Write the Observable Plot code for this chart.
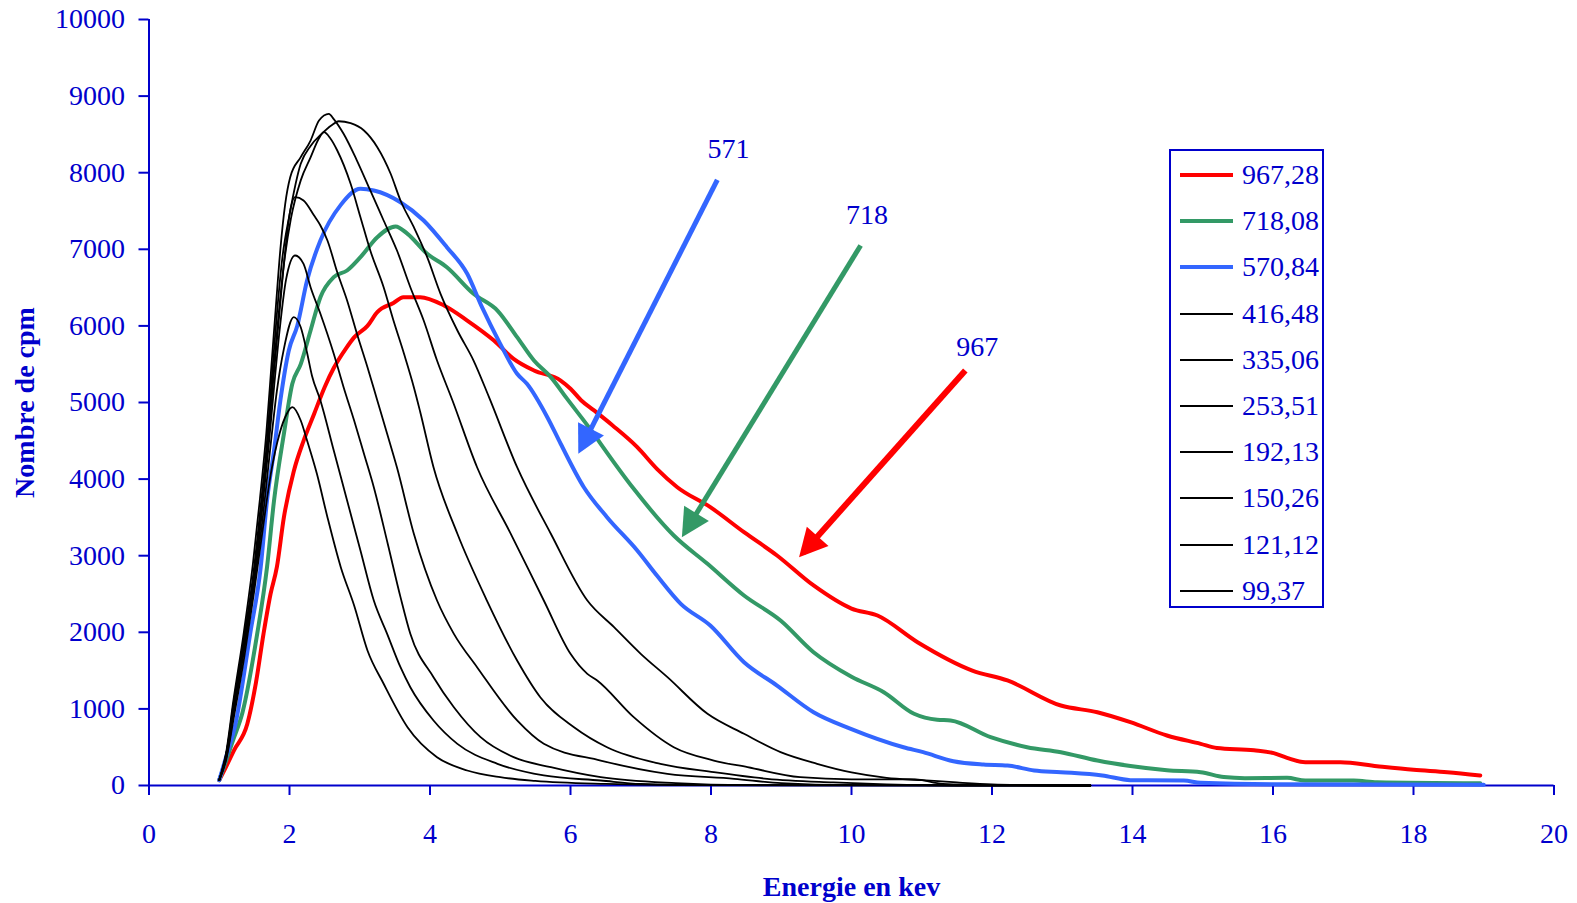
<!DOCTYPE html>
<html><head><meta charset="utf-8">
<script src="https://cdn.jsdelivr.net/npm/d3@7"></script>
<script src="https://cdn.jsdelivr.net/npm/@observablehq/plot@0.6"></script>
<style>
body{margin:0;background:#fff;}
#wrap{position:relative;width:1577px;height:903px;overflow:hidden;}
#legend{position:absolute;left:1169px;top:149px;width:151px;height:455px;border:2px solid #0000cc;background:#fff;font-family:"Liberation Serif","Times New Roman",serif;font-size:28px;color:#0000cc;}
.row{position:absolute;left:0;height:46px;line-height:46px;width:151px;}
.sw{position:absolute;left:9px;width:53px;top:50%;}
.lb{position:absolute;left:71px;top:0;white-space:nowrap;}
</style></head>
<body><div id="wrap"><div id="legend"></div></div>
<script>
// ---- data ----
const xTicks = [0,2,4,6,8,10,12,14,16,18,20];
const yTicks = [0,1000,2000,3000,4000,5000,6000,7000,8000,9000,10000];

const legendLabels = ["967,28","718,08","570,84","416,48","335,06","253,51","192,13","150,26","121,12","99,37"];
const seriesColors = ["#ff0000","#339966","#3366ff","#000000","#000000","#000000","#000000","#000000","#000000","#000000"];

const curve96728 = [[1.0,70],[1.1,250],[1.21,460],[1.4,805],[1.52,1330],[1.63,1980],[1.73,2500],[1.82,2850],[1.92,3500],[2.06,4100],[2.2,4500],[2.35,4850],[2.5,5200],[2.63,5450],[2.8,5700],[2.92,5850],[3.11,6000],[3.25,6180],[3.48,6300],[3.62,6375],[3.86,6375],[4.2,6266],[4.53,6070],[4.91,5809],[5.19,5570],[5.48,5418],[5.86,5287],[6.0,5180],[6.15,5030],[6.33,4900],[6.6,4700],[6.95,4417],[7.23,4134],[7.52,3894],[7.99,3633],[8.47,3307],[8.94,3003],[9.46,2611],[10.0,2310],[10.37,2219],[10.94,1871],[11.72,1501],[12.22,1371],[12.98,1044],[13.5,957],[13.97,827],[14.49,653],[14.97,544],[15.2,490],[15.73,460],[16.01,422],[16.2,361],[16.46,304],[16.96,304],[17.48,252],[18.0,205],[18.48,174],[18.95,131]];
const curve71808 = [[1.0,70],[1.1,330],[1.2,600],[1.33,950],[1.54,1980],[1.68,2850],[1.78,3721],[1.92,4591],[2.04,5244],[2.16,5500],[2.3,5940],[2.44,6375],[2.63,6636],[2.82,6723],[3.01,6897],[3.25,7158],[3.51,7298],[3.68,7202],[3.96,6941],[4.24,6766],[4.62,6419],[4.96,6201],[5.24,5853],[5.48,5548],[5.72,5331],[5.95,5050],[6.33,4591],[6.43,4460],[6.9,3873],[7.47,3264],[7.95,2894],[8.47,2480],[8.99,2154],[9.46,1740],[10.0,1420],[10.46,1218],[10.89,936],[11.22,858],[11.41,849],[11.98,631],[12.5,500],[12.98,435],[13.5,326],[13.97,255],[14.49,200],[14.97,174],[15.3,110],[15.6,95],[16.2,100],[16.46,65],[17.15,65],[17.48,43],[18.95,30]];
const curve57084 = [[1.0,70],[1.1,380],[1.23,800],[1.44,1980],[1.59,2850],[1.68,3721],[1.78,4373],[1.87,5026],[1.99,5679],[2.11,6000],[2.25,6593],[2.44,7115],[2.73,7580],[3.01,7790],[3.2,7768],[3.58,7615],[3.91,7376],[4.24,7027],[4.53,6680],[4.74,6244],[5.0,5766],[5.24,5375],[5.38,5244],[5.67,4808],[5.86,4461],[6.19,3894],[6.52,3503],[6.95,3068],[7.23,2741],[7.57,2372],[7.99,2089],[8.47,1610],[8.94,1305],[9.46,957],[9.99,740],[10.74,500],[11.02,435],[11.45,317],[11.88,274],[12.22,261],[12.6,196],[12.98,174],[13.57,131],[13.97,70],[14.73,65],[14.97,35],[16.0,15],[19.0,10]];
const curve41648 = [[1.0,70],[1.1,420],[1.21,1050],[1.35,1900],[1.49,2800],[1.59,3650],[1.68,4500],[1.75,5350],[1.82,6150],[1.9,6900],[2.0,7450],[2.16,8116],[2.3,8350],[2.45,8500],[2.6,8620],[2.7,8672],[2.87,8646],[3.06,8551],[3.25,8333],[3.44,7986],[3.58,7637],[3.77,7288],[3.96,6897],[4.15,6419],[4.39,5940],[4.62,5548],[4.84,5070],[5.24,4155],[5.72,3286],[6.24,2415],[6.62,2067],[7.0,1719],[7.38,1414],[7.95,936],[8.47,675],[8.99,435],[9.51,283],[10.0,170],[10.5,100],[11.0,70],[11.5,40],[12.0,15],[12.5,5],[13.4,0]];
const curve33506 = [[1.0,70],[1.1,440],[1.2,1100],[1.35,2000],[1.48,2900],[1.58,3750],[1.67,4600],[1.74,5450],[1.81,6300],[1.87,7000],[1.94,7600],[2.01,7941],[2.16,8203],[2.3,8420],[2.42,8681],[2.56,8769],[2.63,8700],[2.77,8508],[2.96,8159],[3.15,7768],[3.34,7376],[3.53,6984],[3.72,6505],[3.91,6070],[4.1,5548],[4.32,5026],[4.67,4155],[5.15,3286],[5.62,2415],[6.0,1719],[6.24,1458],[6.38,1371],[6.9,892],[7.47,500],[8.04,326],[8.52,239],[9.27,108],[10.0,80],[10.9,80],[11.3,20],[12.0,5],[13.4,0]];
const curve25351 = [[1.0,70],[1.1,410],[1.2,1050],[1.36,1950],[1.5,2800],[1.6,3650],[1.69,4500],[1.76,5300],[1.84,6100],[1.92,6800],[2.02,7400],[2.16,7900],[2.3,8200],[2.42,8450],[2.49,8529],[2.58,8450],[2.68,8290],[2.87,7855],[3.01,7419],[3.15,6984],[3.34,6505],[3.48,6070],[3.63,5636],[3.77,5200],[3.86,4880],[4.05,4155],[4.39,3286],[4.81,2415],[5.24,1632],[5.57,1153],[6.05,761],[6.52,500],[7.28,283],[8.04,174],[8.8,87],[9.74,40],[10.5,15],[11.5,0],[13.4,0]];
const curve19213 = [[1.0,70],[1.1,400],[1.2,1000],[1.36,1900],[1.5,2750],[1.6,3600],[1.69,4450],[1.77,5300],[1.85,6100],[1.93,6900],[2.0,7450],[2.08,7680],[2.2,7637],[2.35,7440],[2.44,7311],[2.54,7115],[2.68,6700],[2.82,6332],[2.96,5897],[3.11,5461],[3.25,5026],[3.39,4591],[3.53,4150],[3.77,3286],[4.1,2415],[4.34,1980],[4.67,1544],[5.24,849],[5.62,544],[6.43,326],[7.38,152],[8.33,87],[9.0,30],[10.0,5],[13.4,0]];
const curve15026 = [[1.0,70],[1.1,380],[1.2,950],[1.36,1850],[1.5,2700],[1.6,3500],[1.7,4400],[1.78,5200],[1.86,5950],[1.95,6600],[2.08,6919],[2.2,6810],[2.3,6505],[2.44,6158],[2.63,5636],[2.77,5200],[2.92,4765],[3.06,4330],[3.2,3894],[3.4,3150],[3.58,2459],[3.72,1980],[4.05,1414],[4.34,1022],[4.72,631],[5.19,370],[5.72,239],[6.43,108],[7.5,30],[8.5,5],[13.4,0]];
const curve12112 = [[1.0,70],[1.1,360],[1.2,900],[1.36,1800],[1.5,2650],[1.62,3500],[1.72,4350],[1.82,5150],[1.92,5700],[2.06,6114],[2.16,5983],[2.25,5650],[2.32,5350],[2.44,5026],[2.63,4373],[2.82,3721],[3.01,3068],[3.2,2415],[3.39,1980],[3.58,1544],[3.72,1283],[4.05,849],[4.39,544],[4.96,283],[5.62,131],[6.43,65],[7.0,20],[8.0,5],[13.4,0]];
const curve9937 = [[1.0,70],[1.1,340],[1.2,850],[1.36,1700],[1.5,2550],[1.62,3350],[1.74,4100],[1.86,4600],[1.96,4850],[2.04,4939],[2.16,4765],[2.25,4504],[2.39,4069],[2.54,3503],[2.73,2850],[2.92,2350],[3.11,1762],[3.34,1328],[3.68,761],[4.1,370],[4.53,196],[5.0,108],[5.5,60],[6.5,20],[7.5,5],[13.4,0]];

const allCurves = [curve96728,curve71808,curve57084,curve41648,curve33506,curve25351,curve19213,curve15026,curve12112,curve9937];

// arrow annotations (data space)
const arrowLabels = ["571","718","967"];
const arrowColors = ["#3366ff","#339966","#ff0000"];
const arrowFromX = [8.09, 10.13, 11.62];
const arrowFromY = [7907, 7050, 5418];
const arrowToX = [6.15, 7.63, 9.31];
const arrowToY = [4400, 3308, 3039];
const arrowLabelX = [8.25, 10.22, 11.79];
const arrowLabelY = [8312, 7450, 5722];

// ---- build ----
const BLUE = "#0000cc";
const FONT = "'Liberation Serif','Times New Roman',serif";

const lineMarks = allCurves.map((c, i) => Plot.line(c, {
  x: d => d[0], y: d => d[1],
  stroke: seriesColors[i],
  strokeWidth: i < 3 ? 4 : 1.8,
  curve: "monotone-x"
}));

const arrowData = arrowLabels.map((l, i) => ({label: l, color: arrowColors[i], x1: arrowFromX[i], y1: arrowFromY[i], x2: arrowToX[i], y2: arrowToY[i], lx: arrowLabelX[i], ly: arrowLabelY[i]}));
const arrowMarks = arrowData.map((a, i) => Plot.link([a], {
  x1: "x1", y1: "y1", x2: "x2", y2: "y2",
  stroke: a.color, strokeWidth: i === 2 ? 6 : 5, markerEnd: "arrow", strokeLinecap: "butt"
}));

const plot = Plot.plot({
  width: 1577, height: 903,
  marginLeft: 148.5, marginRight: 23.5, marginTop: 19, marginBottom: 118,
  x: {domain: [0, 20], label: null},
  y: {domain: [0, 10000], label: null},
  style: {fontFamily: FONT, fontSize: "28px", color: BLUE, background: "white"},
  marks: [
    Plot.axisY(yTicks, {tickSize: 10, tickPadding: 14, strokeWidth: 2, fontSize: 28, tickFormat: "d", label: null}),
    Plot.axisX(xTicks, {tickSize: 10, tickPadding: 28, strokeWidth: 2, fontSize: 28, tickFormat: "d", label: null}),
    Plot.ruleX([0], {stroke: BLUE, strokeWidth: 2}),
    Plot.ruleY([0], {stroke: BLUE, strokeWidth: 2}),
    ...lineMarks,
    ...arrowMarks,
    Plot.text(arrowData, {x: "lx", y: "ly", text: "label", fill: BLUE, fontSize: 28}),
    Plot.text(["Energie en kev"], {text: d => d, frameAnchor: "bottom", lineAnchor: "middle", dy: 102, fontWeight: "bold", fontSize: 28, fill: BLUE}),
    Plot.text(["Nombre de cpm"], {text: d => d, frameAnchor: "left", textAnchor: "middle", lineAnchor: "middle", dx: -124, rotate: -90, fontWeight: "bold", fontSize: 28, fill: BLUE})
  ]
});

// filled triangular arrowheads
plot.querySelectorAll("marker").forEach(m => {
  const c = m.getAttribute("stroke");
  m.setAttribute("viewBox", "-23 -16 30 32");
  m.setAttribute("markerUnits", "userSpaceOnUse");
  m.setAttribute("markerWidth", "30");
  m.setAttribute("markerHeight", "32");
  m.setAttribute("fill", c);
  m.setAttribute("stroke", "none");
  const p = m.querySelector("path");
  if (p) p.setAttribute("d", "M-22,-14.5L6,0L-22,14.5Z");
});

const wrap = document.getElementById("wrap");
wrap.insertBefore(plot, wrap.firstChild);

// legend
const leg = document.getElementById("legend");
legendLabels.forEach((lab, i) => {
  const row = document.createElement("div");
  row.className = "row";
  row.style.top = (24 + 46.2 * i - 23) + "px";
  const sw = document.createElement("div");
  sw.className = "sw";
  const w = i < 3 ? 4 : 2;
  sw.style.height = w + "px";
  sw.style.marginTop = (-w / 2) + "px";
  sw.style.background = seriesColors[i];
  const tx = document.createElement("div");
  tx.className = "lb";
  tx.textContent = lab;
  row.appendChild(sw); row.appendChild(tx);
  leg.appendChild(row);
});
</script>
</body></html>
